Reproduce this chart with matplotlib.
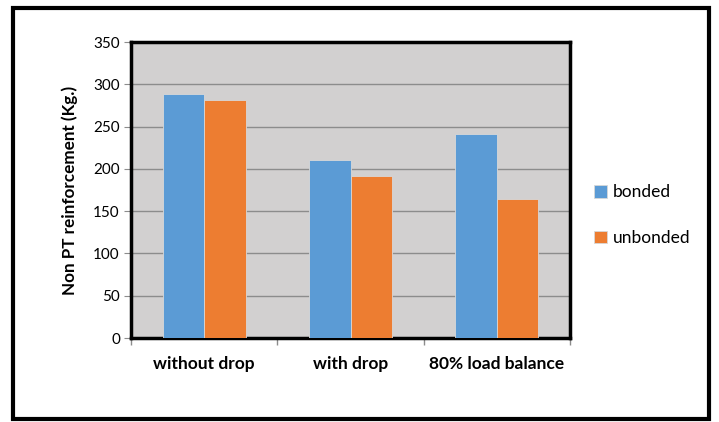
import numpy as np
import matplotlib.pyplot as plt
from matplotlib.patches import Rectangle

categories = ['without drop', 'with drop', '80% load balance']
bonded = [289, 211, 241]
unbonded = [281, 191, 164]
series_names = ['bonded', 'unbonded']

plt.rcParams['font.family'] = ['Lato', 'DejaVu Sans']

fig = plt.figure(figsize=(7.19, 4.22), dpi=100)
W, H = 719, 422

# outer chart border
fig.patches.append(Rectangle((13 / W, 1 - 419 / H), 696 / W, 411 / H,
                             transform=fig.transFigure, fill=False,
                             edgecolor='black', linewidth=3))

ax = fig.add_axes([131 / W, 1 - 338 / H, 439 / W, 296 / H])
ax.set_facecolor('#D2D0D0')

x = np.arange(len(categories))
w = 0.283
ax.bar(x - w / 2, bonded, w, color='#5B9BD5', edgecolor='#D8D8D8',
       linewidth=0.6, label=series_names[0], zorder=3)
ax.bar(x + w / 2, unbonded, w, color='#ED7D31', edgecolor='#D8D8D8',
       linewidth=0.6, label=series_names[1], zorder=3)

ax.set_xlim(-0.5, 2.5)
ax.set_ylim(0, 350)
ax.set_yticks(range(0, 351, 50))
ax.yaxis.grid(True, color='#8C8C8C', linewidth=1, zorder=1)

for s in ax.spines.values():
    s.set_linewidth(2.5)
    s.set_color('black')

ax.set_xticks(x)
ax.set_xticklabels(categories, fontsize=12.5, fontweight='bold')
ax.tick_params(axis='x', length=0, pad=13)
ax.set_xticks([-0.5, 0.5, 1.5, 2.5], minor=True)
ax.tick_params(axis='x', which='minor', length=5, color='#8C8C8C', width=1,
               direction='out')
ax.tick_params(axis='y', length=5, color='#8C8C8C', labelsize=11, pad=3)

ax.set_ylabel('Non PT reinforcement (Kg.)', fontsize=12.3, fontweight='bold',
              labelpad=11)

ax.legend(loc='center left', bbox_to_anchor=(1.02, 0.415), frameon=False,
          fontsize=12.5, handlelength=0.75, handleheight=0.75,
          labelspacing=1.7, handletextpad=0.3)

fig.savefig('out.png', dpi=100)
